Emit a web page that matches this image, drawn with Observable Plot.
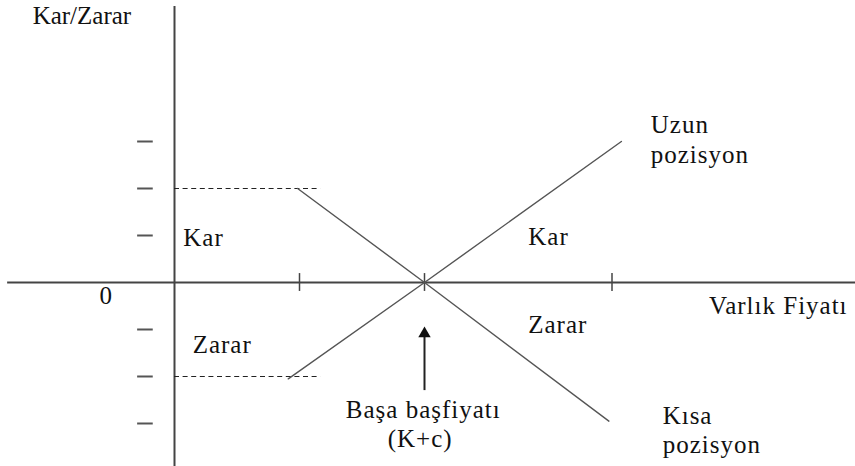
<!DOCTYPE html>
<html>
<head>
<meta charset="utf-8">
<script src="https://cdn.jsdelivr.net/npm/d3@7"></script>
<script src="https://cdn.jsdelivr.net/npm/@observablehq/plot@0.6"></script>
<style>
  html, body { margin: 0; padding: 0; background: #fff; }
  #chart svg { display: block; }
  #chart svg text { font-family: "Liberation Serif", "DejaVu Serif", serif !important; }
  #chart svg .spaced text, #chart svg text.spaced { letter-spacing: 1px; }
</style>
</head>
<body>
<div id="chart"></div>
<script>
// Payoff diagram: long and short forward/futures positions (units)
const breakEven = 4;                 // "Başa başfiyatı (K+c)" on the price axis
const xTicks = [2, 4, 7];            // tick marks on the price axis
const yTicks = [-3, -2, -1, 1, 2, 3];// short dashes beside the profit/loss axis
const dashedLevels = [2, -2];        // dashed guide levels
const dashedEnd = 2.34;

const longPos = [ { x: 1.82, y: -2.05 }, { x: 4, y: 0 }, { x: 7.15, y: 3.0 } ];   // Uzun pozisyon
const shortPos = [ { x: 1.97, y: 2.0 }, { x: 4, y: 0 }, { x: 6.95, y: -2.95 } ];  // Kısa pozisyon

const axisTitles = [
  { x: -2.27, y: 5.68, text: "Kar/Zarar" }
];
const originLabel = [ { x: -1.10, y: -0.28, text: "0" } ];
const regionLabels = [
  { x: 0.14, y: 0.94, text: "Kar" },
  { x: 0.29, y: -1.32, text: "Zarar" },
  { x: 5.66, y: 0.96, text: "Kar" },
  { x: 5.66, y: -0.91, text: "Zarar" },
  { x: 7.62, y: 3.36, text: "Uzun" },
  { x: 7.62, y: 2.72, text: "pozisyon" },
  { x: 8.55, y: -0.49, text: "Varlık Fiyatı" },
  { x: 7.81, y: -2.83, text: "Kısa" },
  { x: 7.81, y: -3.45, text: "pozisyon" }
];
const breakEvenLabels = [
  { x: 3.98, y: -2.72, text: "Başa başfiyatı" },
  { x: 3.93, y: -3.34, text: "(K+c)" }
];

const arrowFrom = -2.30, arrowTo = -1.0, arrowHeadY = -1.09;

const font = "Liberation Serif";

const chart = Plot.plot({
  width: 855,
  height: 466,
  margin: 0,
  style: { background: "#fff", fontFamily: font },
  x: { domain: [-2.784, 10.896], range: [0, 855], axis: null },
  y: { domain: [-3.915, 6.0], range: [466, 0], axis: null },
  marks: [
    // axes
    Plot.ruleX([0], { y1: -3.915, y2: 5.87, stroke: "#444", strokeWidth: 2 }),
    Plot.ruleY([0], { x1: -2.67, x2: 10.9, stroke: "#444", strokeWidth: 2 }),
    Plot.ruleX(xTicks, { y1: -0.19, y2: 0.19, stroke: "#444", strokeWidth: 1.5 }),
    Plot.ruleY(yTicks, { x1: -0.59, x2: -0.34, stroke: "#555", strokeWidth: 2 }),
    // dashed guides
    Plot.ruleY(dashedLevels, { x1: 0, x2: dashedEnd, stroke: "#222", strokeWidth: 1.2, strokeDasharray: "5,3.6" }),
    // payoff lines
    Plot.line(longPos, { x: "x", y: "y", stroke: "#555", strokeWidth: 1.4 }),
    Plot.line(shortPos, { x: "x", y: "y", stroke: "#555", strokeWidth: 1.4 }),
    // arrow to break-even point
    Plot.ruleX([breakEven], { y1: arrowFrom, y2: arrowTo, stroke: "#222", strokeWidth: 2 }),
    Plot.dot([{ x: breakEven, y: arrowHeadY }], { x: "x", y: "y", symbol: "triangle", r: 4.6, fill: "#111", stroke: "none" }),
    // labels
    Plot.text(axisTitles, { x: "x", y: "y", text: "text", textAnchor: "start", fontSize: 25, fill: "#111" }),
    Plot.text(originLabel, { x: "x", y: "y", text: "text", textAnchor: "middle", fontSize: 25, fill: "#111" }),
    Plot.text(regionLabels, { x: "x", y: "y", text: "text", textAnchor: "start", fontSize: 25, fill: "#111", className: "spaced" }),
    Plot.text(breakEvenLabels, { x: "x", y: "y", text: "text", textAnchor: "middle", fontSize: 25, fill: "#111", className: "spaced" })
  ]
});

document.getElementById("chart").appendChild(chart);
</script>
</body>
</html>
